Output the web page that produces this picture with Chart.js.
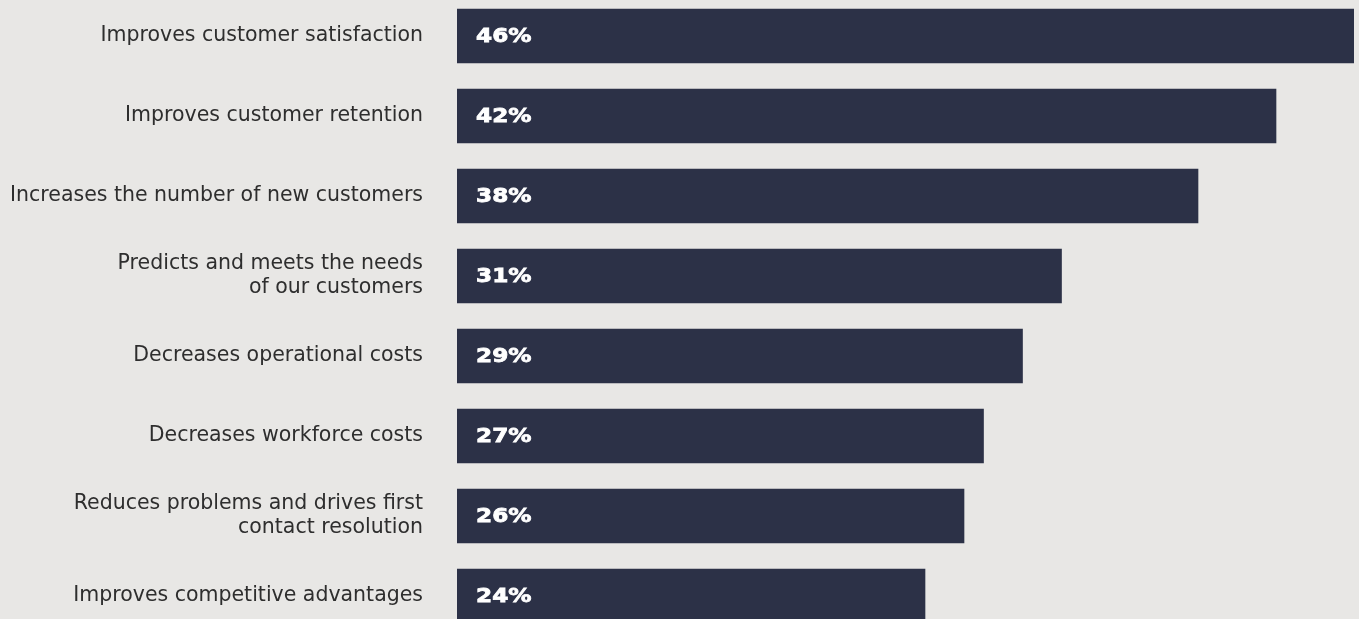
<!DOCTYPE html>
<html>
<head>
<meta charset="utf-8">
<script src="https://cdn.jsdelivr.net/npm/chart.js@4/dist/chart.umd.min.js"></script>
<style>
  html, body { margin: 0; padding: 0; background: #e8e7e5; overflow: hidden; }
  #wrap { position: relative; width: 1359px; height: 640px; margin-top: -4px; }
</style>
</head>
<body>
<div id="wrap"><canvas id="benefits"></canvas></div>
<script>
// benefits ranked by share of respondents
const categories = [
  'Improves customer satisfaction',
  'Improves customer retention',
  'Increases the number of new customers',
  ['Predicts and meets the needs', 'of our customers'],
  'Decreases operational costs',
  'Decreases workforce costs',
  ['Reduces problems and drives first', 'contact resolution'],
  'Improves competitive advantages'
];
const shares = [46, 42, 38, 31, 29, 27, 26, 24];

const barColor = '#2c3147';

// white percentage written inside the start of each bar
const valueLabels = {
  id: 'valueLabels',
  afterDatasetsDraw(chart) {
    const ctx = chart.ctx;
    const meta = chart.getDatasetMeta(0);
    meta.data.forEach((bar, i) => {
      ctx.save();
      ctx.fillStyle = '#ffffff';
      ctx.strokeStyle = '#ffffff';
      ctx.lineWidth = 0.8;
      ctx.font = 'bold 19px "DejaVu Sans"';
      ctx.textAlign = 'left';
      ctx.textBaseline = 'middle';
      // wide, squat digits
      ctx.translate(bar.base + 19, bar.y + 1);
      ctx.scale(1.22, 1);
      ctx.fillText(shares[i] + '%', 0, 0);
      ctx.strokeText(shares[i] + '%', 0, 0);
      ctx.restore();
    });
  }
};

new Chart(document.getElementById('benefits'), {
  type: 'bar',
  data: {
    labels: categories,
    datasets: [{
      data: shares,
      backgroundColor: barColor,
      borderWidth: 0,
      barThickness: 54
    }]
  },
  options: {
    indexAxis: 'y',
    responsive: true,
    maintainAspectRatio: false,
    animation: false,
    layout: { padding: { left: 0, right: 5, top: 0, bottom: 0 } },
    plugins: {
      legend: { display: false },
      tooltip: { enabled: false }
    },
    scales: {
      x: {
        display: false,
        min: 0,
        max: 46
      },
      y: {
        afterFit(scale) {
          scale.width = 457;
          scale.paddingTop = 0;
          scale.paddingBottom = 0;
        },
        grid: { display: false, drawTicks: false },
        border: { display: false },
        ticks: {
          padding: 34,
          color: '#2e2e2e',
          font: { family: 'DejaVu Sans', size: 20.5, lineHeight: 1.17 }
        }
      }
    }
  },
  plugins: [valueLabels]
});
</script>
</body>
</html>
